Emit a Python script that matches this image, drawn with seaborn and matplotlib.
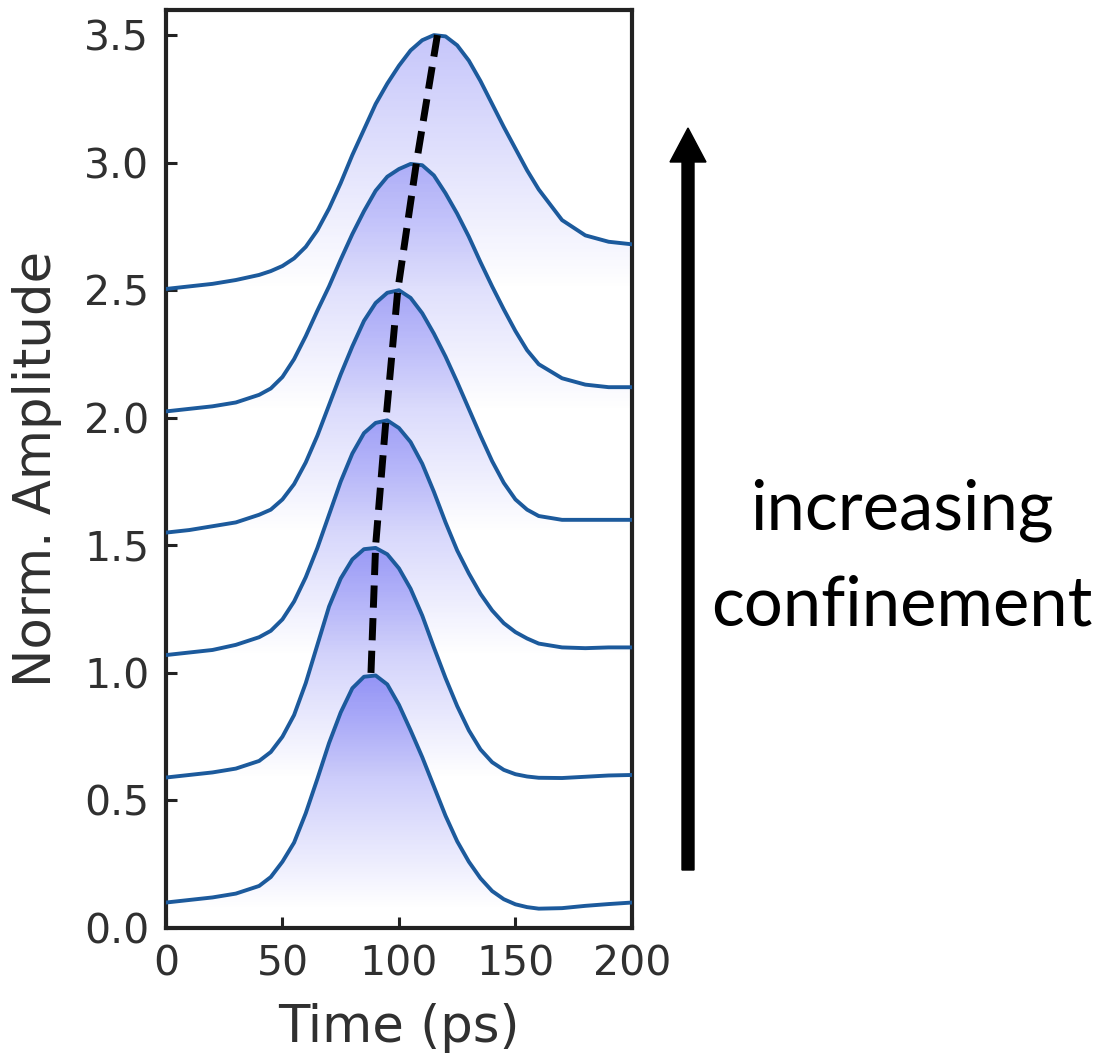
import numpy as np
import pandas as pd
import matplotlib
matplotlib.use("Agg")
import matplotlib.pyplot as plt
from matplotlib.patches import FancyArrow
from matplotlib.ticker import FormatStrFormatter
import seaborn as sns

# time axis shared by all traces (ps)
time_ps = [0, 10, 20, 30, 40, 45, 50, 55, 60, 65, 70, 75, 80, 85, 90, 95, 100,
           105, 110, 115, 120, 125, 130, 135, 140, 145, 150, 155, 160, 170, 180, 190, 200]

# normalised, vertically offset traces (bottom -> top)
trace_1 = [0.10, 0.11, 0.12, 0.135, 0.165, 0.20, 0.26, 0.335, 0.45, 0.585, 0.725, 0.845, 0.94,
           0.985, 0.99, 0.955, 0.875, 0.775, 0.67, 0.555, 0.44, 0.34, 0.26, 0.195, 0.145, 0.113,
           0.093, 0.082, 0.076, 0.078, 0.087, 0.094, 0.10]
trace_2 = [0.59, 0.60, 0.61, 0.625, 0.655, 0.69, 0.75, 0.835, 0.96, 1.11, 1.26, 1.37, 1.445,
           1.485, 1.49, 1.465, 1.41, 1.33, 1.225, 1.10, 0.98, 0.87, 0.775, 0.70, 0.65, 0.62,
           0.603, 0.594, 0.589, 0.588, 0.593, 0.598, 0.60]
trace_3 = [1.07, 1.08, 1.09, 1.11, 1.14, 1.165, 1.21, 1.28, 1.375, 1.49, 1.62, 1.75, 1.86,
           1.94, 1.98, 1.99, 1.96, 1.905, 1.82, 1.71, 1.59, 1.48, 1.39, 1.31, 1.245, 1.195,
           1.16, 1.135, 1.115, 1.10, 1.097, 1.10, 1.10]
trace_4 = [1.55, 1.56, 1.575, 1.59, 1.62, 1.64, 1.68, 1.74, 1.825, 1.93, 2.05, 2.17, 2.28,
           2.38, 2.45, 2.49, 2.50, 2.47, 2.41, 2.33, 2.24, 2.14, 2.035, 1.93, 1.83, 1.745,
           1.68, 1.64, 1.615, 1.60, 1.60, 1.60, 1.60]
trace_5 = [2.025, 2.035, 2.045, 2.06, 2.09, 2.115, 2.16, 2.23, 2.32, 2.42, 2.515, 2.62, 2.72,
           2.81, 2.89, 2.945, 2.975, 2.995, 2.99, 2.95, 2.88, 2.80, 2.71, 2.61, 2.515, 2.425,
           2.34, 2.265, 2.21, 2.155, 2.13, 2.12, 2.12]
trace_6 = [2.505, 2.515, 2.525, 2.54, 2.56, 2.575, 2.595, 2.625, 2.67, 2.735, 2.82, 2.92, 3.03,
           3.13, 3.23, 3.31, 3.38, 3.44, 3.48, 3.50, 3.495, 3.46, 3.40, 3.32, 3.23, 3.14,
           3.055, 2.97, 2.895, 2.775, 2.715, 2.69, 2.68]
traces = [trace_1, trace_2, trace_3, trace_4, trace_5, trace_6]

# peak positions joined by the dashed guide
peak_time = [88, 90, 94.5, 99.5, 107.5, 116.5]
peak_amp = [1.0, 1.5, 2.0, 2.5, 3.0, 3.5]

x_ticks = [0, 50, 100, 150, 200]
y_ticks = [0.0, 0.5, 1.0, 1.5, 2.0, 2.5, 3.0, 3.5]

sns.set_style("ticks")
plt.rcParams["font.family"] = ["DejaVu Sans"]

df = pd.DataFrame({
    "time": np.tile(time_ps, len(traces)),
    "amp": np.concatenate(traces),
    "trace": np.repeat(np.arange(len(traces)), len(time_ps)),
})

fig = plt.figure(figsize=(10.99, 10.54), dpi=100)
ax = fig.add_axes([0.151, 0.1195, 0.424, 0.8714])

# gradient fills under each trace
fill_rgb = (0.36, 0.36, 0.95)
ramp = np.linspace(0, 1, 256)
for i, amp in enumerate(traces):
    amp = np.asarray(amp)
    lo, hi = amp.min(), amp.max()
    img = np.zeros((256, 1, 4))
    img[..., 0], img[..., 1], img[..., 2] = fill_rgb
    img[:, 0, 3] = (0.55 - 0.04 * i) * ramp
    poly = ax.fill_between(time_ps, amp, lo, facecolor="none", edgecolor="none")
    im = ax.imshow(img, extent=[0, 200, lo, hi], origin="lower", aspect="auto",
                   interpolation="bilinear", zorder=1)
    im.set_clip_path(poly.get_paths()[0], transform=ax.transData)

sns.lineplot(data=df, x="time", y="amp", units="trace", estimator=None, sort=False,
             color="#1c5a9c", linewidth=2.8, legend=False, ax=ax, zorder=3)

ax.plot(peak_time, peak_amp, color="black", linewidth=5, dashes=(3.2, 1.5),
        dash_capstyle="butt", zorder=4)

ax.set_xlim(0, 200)
ax.set_ylim(0, 3.6)
ax.set_xticks(x_ticks)
ax.set_yticks(y_ticks)
ax.yaxis.set_major_formatter(FormatStrFormatter("%.1f"))
ax.tick_params(direction="in", length=8, width=2.2, color="#222222",
               labelsize=29.5, labelcolor="#303030", pad=12)
for s in ax.spines.values():
    s.set_visible(True)
    s.set_linewidth(3)
    s.set_color("#222222")
ax.set_xlabel("Time (ps)", fontsize=37, color="#303030", labelpad=13)
ax.set_ylabel("Norm. Amplitude", fontsize=37, color="#303030", labelpad=16)

# annotation arrow and text outside the axes
fig.add_artist(FancyArrow(688 / 1099, 1 - 870 / 1054, 0, (870 - 128) / 1054,
                          width=12 / 1099, head_width=36 / 1099, head_length=34 / 1054,
                          length_includes_head=True, color="black",
                          transform=fig.transFigure))
fig.text(902 / 1099, 1 - 530 / 1054, "increasing", ha="center", va="baseline",
         fontsize=49.5, family=["Lato", "DejaVu Sans"], color="black")
fig.text(902 / 1099, 1 - 625 / 1054, "confinement", ha="center", va="baseline",
         fontsize=49.5, family=["Lato", "DejaVu Sans"], color="black")

fig.savefig("out.png", dpi=100)
